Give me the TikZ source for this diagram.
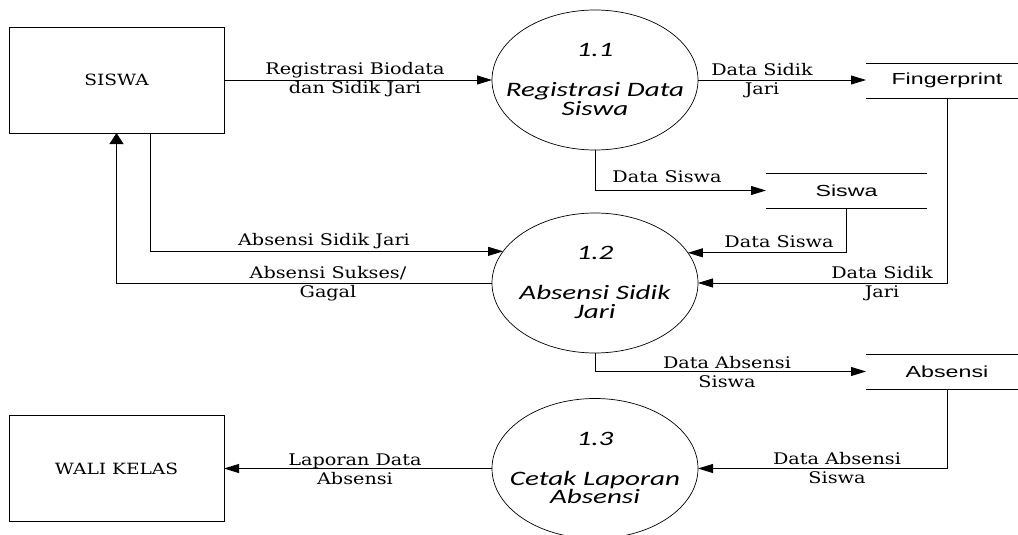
\documentclass[tikz,border=0pt]{standalone}
\usepackage{fontspec}
\setmainfont{DejaVu Serif}[FakeStretch=1.2]
\newfontfamily\storefont{Liberation Sans}[FakeStretch=1.45]
\newfontfamily\procfont{Carlito}[FakeStretch=1.42]
\usetikzlibrary{arrows.meta,calc,shapes.geometric}

\tikzset{
  entity/.style={draw, line width=0.8pt, minimum width=215pt, minimum height=106pt,
    inner sep=0pt, outer sep=0pt, font=\fontsize{15.5}{19}\selectfont},
  process/.style={draw, ellipse, line width=0.7pt, minimum width=206pt, minimum height=140pt,
    inner sep=0pt, outer sep=0pt},
  procnum/.style={font=\procfont\itshape\fontsize{20.5}{20}\selectfont, inner sep=0pt},
  procname/.style={font=\procfont\itshape\fontsize{20.5}{18.5}\selectfont, align=center, inner sep=0pt},
  store/.style={minimum width=162pt, minimum height=35pt, inner sep=0pt, outer sep=0pt,
    font=\storefont\fontsize{16}{19}\selectfont,
    append after command={
      \pgfextra{\draw[line width=0.8pt] (\tikzlastnode.north west) -- (\tikzlastnode.north east)
        (\tikzlastnode.south west) -- (\tikzlastnode.south east);}}},
  flow/.style={line width=0.8pt, -{Triangle[length=15pt,width=9pt]}},
  flowup/.style={line width=0.8pt, -{Triangle[length=11pt,width=14pt]}},
  flowlabel/.style={font=\fontsize{16}{19}\selectfont, align=center, inner sep=0pt}
}

\begin{document}
\begin{tikzpicture}[x=1pt, y=-1pt]
  \useasboundingbox (0,0) rectangle (1018,535);
  \clip (0,0) rectangle (1018,535);

  % external entities
  \node[entity] (siswa) at (116.5,80) {SISWA};
  \node[entity] (wali) at (116.5,468.5) {WALI KELAS};

  % processes
  \node[process] (p1) at (595,80) {};
  \node[process] (p2) at (595,283) {};
  \node[process] (p3) at (595,468.5) {};

  \node[procnum] (p1num) at ($(p1)+(0,-30)$) {1.1};
  \node[procname] (p1name) at ($(p1)+(0,19)$) {Registrasi Data\\Siswa};
  \node[procnum] (p2num) at ($(p2)+(0,-30)$) {1.2};
  \node[procname] (p2name) at ($(p2)+(0,19)$) {Absensi Sidik\\Jari};
  \node[procnum] (p3num) at ($(p3)+(0,-30)$) {1.3};
  \node[procname] (p3name) at ($(p3)+(0,19)$) {Cetak Laporan\\Absensi};

  % data stores
  \node[store] (fp) at (947,80.5) {Fingerprint};
  \node[store, minimum width=161pt] (ss) at (846.5,190.5) {Siswa};
  \node[store] (ab) at (947,371.5) {Absensi};

  % flows
  \draw[flow] (siswa.east) -- (p1.west);
  \node[flowlabel] (l1) at (355,80) {Registrasi Biodata\\dan Sidik Jari};

  \draw[flow] (p1.east) -- (p1.east -| fp.west);
  \node[flowlabel] (l2) at (762,81) {Data Sidik\\Jari};

  \draw[flow] (p1.south) |- (ss.west);
  \node[flowlabel] (l3) at (667,177) {Data Siswa};

  \draw[flow] (ss.south) |- (p2.18.1);
  \node[flowlabel] (l4) at (779,242) {Data Siswa};

  \draw[flow] (fp.south) |- (p2.east);
  \node[flowlabel] (l5) at (882,283.5) {Data Sidik\\Jari};

  \coordinate (sdown) at ($(siswa.south)+(33.5,0)$);
  \draw[flow] (sdown) |- (p2.161.4);
  \node[flowlabel] (l6) at (324,241) {Absensi Sidik Jari};

  \draw[flowup] (p2.west) -| (siswa.south);
  \node[flowlabel] (l7) at (328,284) {Absensi Sukses/\\Gagal};

  \draw[flow] (p2.south) |- (ab.west);
  \node[flowlabel] (l8) at (727,372) {Data Absensi\\Siswa};

  \draw[flow] (ab.south) |- (p3.east);
  \node[flowlabel] (l9) at (837,468) {Data Absensi\\Siswa};

  \draw[flow] (p3.west) -- (wali.east);
  \node[flowlabel] (l10) at (355,469) {Laporan Data\\Absensi};
\end{tikzpicture}
\end{document}
